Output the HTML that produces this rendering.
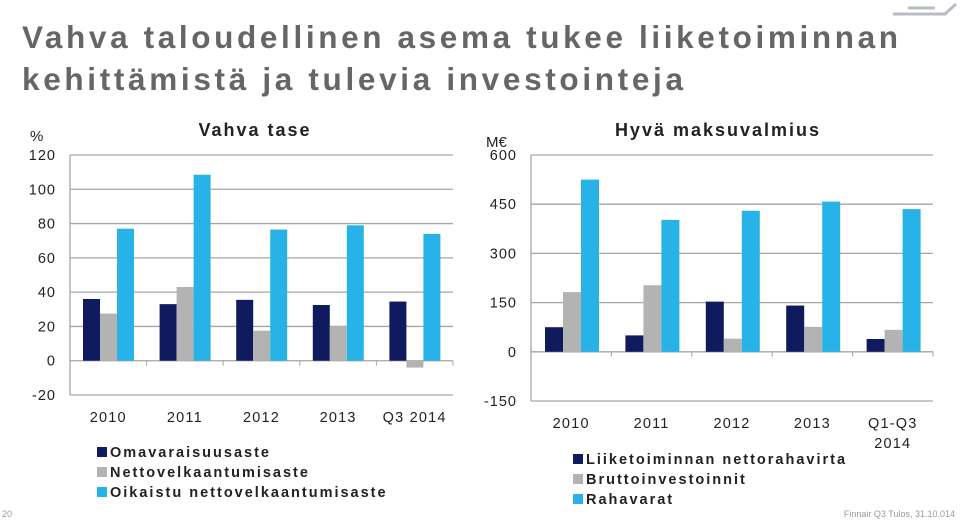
<!DOCTYPE html>
<html><head><meta charset="utf-8"><style>
body{margin:0;background:#fff;}
svg{display:block;font-family:"Liberation Sans",sans-serif;}
</style></head><body>
<svg id="s" width="960" height="521" viewBox="0 0 960 521">
<text x="22" y="48" font-size="31.5" font-weight="bold" fill="#666" textLength="876" lengthAdjust="spacing">Vahva taloudellinen asema tukee liiketoiminnan</text>
<text x="22" y="90" font-size="31.5" font-weight="bold" fill="#666" textLength="661" lengthAdjust="spacing">kehittämistä ja tulevia investointeja</text>
<g stroke="#b8bcc4" stroke-width="3" fill="none">
<path d="M893 14 L945 14 L956 4"/><path d="M908 8 L935 8"/>
</g>
<text x="2" y="517" font-size="9" fill="#999">20</text>
<text x="955" y="517" font-size="9" fill="#999" text-anchor="end">Finnair Q3 Tulos, 31.10.014</text>
<g id="left"></g><g id="right"></g>
</svg>
<script>
const leftCats=["2010","2011","2012","2013","Q3 2014"];
const leftOma=[36,33,35.5,32.5,34.5];
const leftNetto=[27.5,43,17.5,20,-4];
const leftOik=[77,108.5,76.5,79,74];
const leftTicks=[120,100,80,60,40,20,0,-20];
const rightCats=[["2010"],["2011"],["2012"],["2013"],["Q1-Q3","2014"]];
const rightLiike=[75,50,153,141,39];
const rightBrutto=[182,203,40,76,67];
const rightRaha=[525,402,430,458,435];
const rightTicks=[600,450,300,150,0,-150];
const NS="http://www.w3.org/2000/svg";
const C=["#101a5e","#b3b3b3","#27b3e8"];
function mk(p,t,a){const e=document.createElementNS(NS,t);for(const k in a)e.setAttribute(k,a[k]);p.appendChild(e);return e;}
function chart(g,o){
  const y=v=>o.y0-(v-o.min)/(o.max-o.min)*(o.y0-o.y1);
  o.ticks.forEach(t=>{
    const l=mk(g,"line",{x1:o.x0,x2:o.x1,y1:y(t),y2:y(t),stroke:"#a6a6a6","stroke-width":1.3});
    
    
    const tx=mk(g,"text",{x:o.tx,y:y(t)+5,"font-size":14.5,"text-anchor":"end",fill:"#222","letter-spacing":1});
    tx.textContent=t;
    
    
  });
  const ax=mk(g,"line",{x1:o.x0,x2:o.x0,y1:o.y1,y2:o.y0,stroke:"#a6a6a6","stroke-width":1.3});
  
  
  const cw=(o.x1-o.x0)/o.cats.length;
  for(let i=1;i<=o.cats.length;i++){
    const tk=mk(g,"line",{x1:o.x0+i*cw,x2:o.x0+i*cw,y1:y(0),y2:y(0)+5,stroke:"#a6a6a6"});
    
    
  }
  o.cats.forEach((c,i)=>{
    o.series.forEach((s,j)=>{
      const v=s[i],bx=o.x0+i*cw+o.off+j*o.bw;
      const r=mk(g,"rect",{x:bx,y:Math.min(y(v),y(0)),width:o.bw,height:Math.abs(y(v)-y(0)),fill:C[j]});
      
      
    });
    const lines=Array.isArray(c)?c:[c];
    lines.forEach((ln,k)=>{
      const t=mk(g,"text",{x:o.x0+i*cw+cw/2,y:o.ly+k*20,"font-size":14.5,"text-anchor":"middle",fill:"#222","letter-spacing":1.2});
      t.textContent=ln;
      
      
    });
  });
  const tt=mk(g,"text",{x:o.tcx,y:136,"font-size":18,"font-weight":"bold","text-anchor":"middle",fill:"#222","letter-spacing":2});
  tt.textContent=o.title;
  
  
  const u=mk(g,"text",{x:o.ux,y:o.uy,"font-size":15,fill:"#222"});
  u.textContent=o.unit;
  
  
  o.legend.forEach((n,j)=>{
    const sq=mk(g,"rect",{x:o.lx,y:o.lgy+j*o.lgs-10,width:10,height:10,fill:C[j]});
    
    
    const t=mk(g,"text",{x:o.lx+13,y:o.lgy+j*o.lgs,"font-size":14.5,"font-weight":"bold",fill:"#222","letter-spacing":2});
    t.textContent=n;
    
    
  });
}
chart(document.getElementById("left"),{x0:70,x1:453,y0:395,y1:155,min:-20,max:120,ticks:leftTicks,tx:56,cats:leftCats,
 series:[leftOma,leftNetto,leftOik],snames:["oma","netto","oikaistu"],bw:17,off:13,ly:422,title:"Vahva tase",tcx:255,unit:"%",ux:30,uy:141,
 legend:["Omavaraisuusaste","Nettovelkaantumisaste","Oikaistu nettovelkaantumisaste"],lx:97,lgy:457,lgs:20});
chart(document.getElementById("right"),{x0:531,x1:933,y0:401,y1:155,min:-150,max:600,ticks:rightTicks,tx:517,cats:rightCats,
 series:[rightLiike,rightBrutto,rightRaha],snames:["liike","brutto","raha"],bw:18,off:14,ly:428,title:"Hyvä maksuvalmius",tcx:718,unit:"M€",ux:486,uy:147,
 legend:["Liiketoiminnan nettorahavirta","Bruttoinvestoinnit","Rahavarat"],lx:573,lgy:464,lgs:20});
</script>
</body></html>
